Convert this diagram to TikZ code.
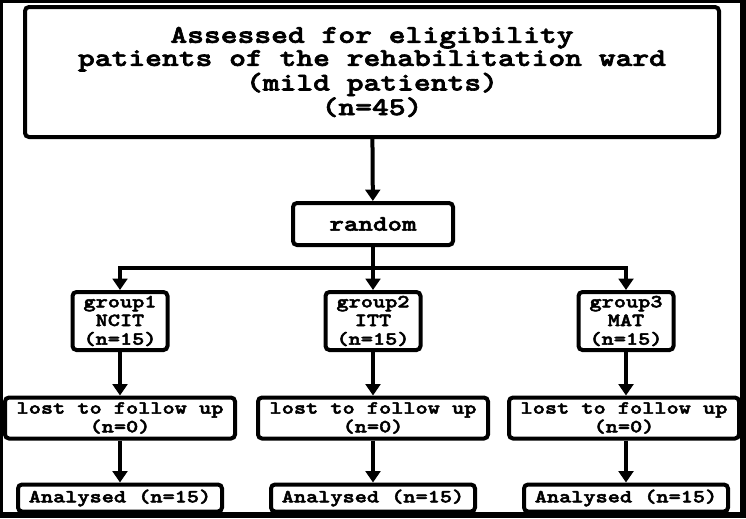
\documentclass[tikz,border=0pt]{standalone}
\usepackage{fontspec}
\usetikzlibrary{arrows.meta, positioning}
\newfontfamily\boxfont{lmmonolt10-bold.otf}[FakeStretch=1.25, FakeBold=2.5]
\tikzset{
  x=0.75pt, y=-0.75pt, % one unit is one pixel of the reference
  box/.style={draw, line width=3pt, rounded corners=3pt, inner sep=0pt, align=center, font=\boxfont\fontsize{13.9}{14}\selectfont}, % every box of the chart
  flow/.style={line width=3pt, -{Triangle[width=11pt, length=8.5pt]}}, % connectors with bold heads
}

\begin{document}
\begin{tikzpicture}
    % frame round the chart
    \fill[black] (0,0) rectangle (746,518);
    \fill[white] (3,3) rectangle (740,512);
    \useasboundingbox (0,0) rectangle (746,518);

    \node[box, minimum width=520.5pt, minimum height=97.5pt, font=\boxfont\fontsize{19.2}{17.3}\selectfont] (top) at (372,72)
      {Assessed for eligibility\\patients of the rehabilitation ward\\(mild patients)\\(n=45)};
    \node[box, minimum width=120pt, minimum height=31.5pt, font=\boxfont\fontsize{16.6}{16}\selectfont] (rand) at (373,224) {random};
    \coordinate (fork) at (373,268);

    % the three groups
    \node[box, minimum width=71.25pt, minimum height=43.5pt] (g1) at (120,321) {group1\\NCIT\\(n=15)};
    \node[box, minimum width=71.25pt, minimum height=43.5pt] (g2) at (373,321) {group2\\ITT\\(n=15)};
    \node[box, minimum width=71.25pt, minimum height=43.5pt] (g3) at (626,321) {group3\\MAT\\(n=15)};

    \node[box, minimum width=172.5pt, minimum height=30.75pt] (lost1) at (120,418) {lost to follow up\\(n=0)};
    \node[box, minimum width=172.5pt, minimum height=30.75pt] (lost2) at (373,418) {lost to follow up\\(n=0)};
    \node[box, minimum width=172.5pt, minimum height=30.75pt] (lost3) at (624,418) {lost to follow up\\(n=0)};

    \node[box, minimum width=153pt, minimum height=20.25pt] (ana1) at (120,498) {Analysed (n=15)};
    \node[box, minimum width=153pt, minimum height=20.25pt] (ana2) at (373,498) {Analysed (n=15)};
    \node[box, minimum width=153pt, minimum height=20.25pt] (ana3) at (626,498) {Analysed (n=15)};

    \draw[flow] (top) -- (rand);
    \draw[line width=3pt] (rand) -- (fork);
    \draw[line width=3pt, line cap=rect] (g1.north |- fork) -- (g3.north |- fork);
    \draw[flow] (fork) -| (g1);
    \draw[flow] (fork) -- (g2);
    \draw[flow] (fork) -| (g3);

    \draw[flow] (g1) -- (lost1.north -| g1);
    \draw[flow] (g2) -- (lost2);
    \draw[flow] (g3) -- (lost3.north -| g3);
    \draw[flow] (lost1) -- (ana1);
    \draw[flow] (lost2) -- (ana2);
    \draw[flow] (lost3.south -| g3) -- (ana3);
\end{tikzpicture}
\end{document}
